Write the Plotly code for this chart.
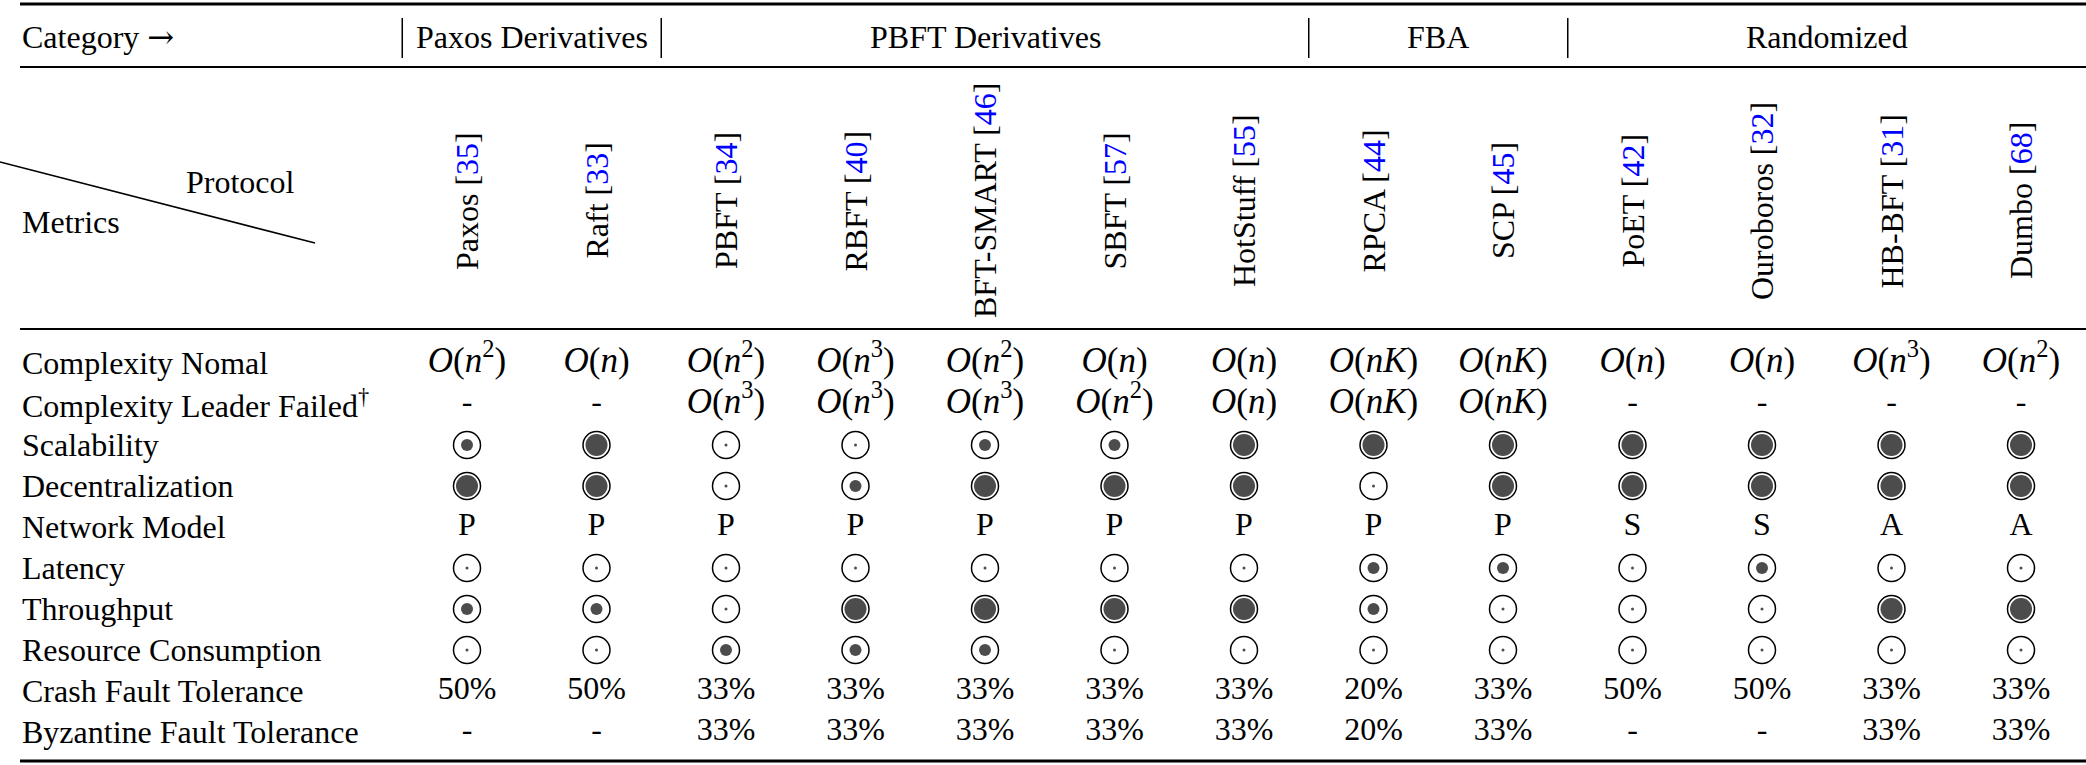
import plotly.graph_objects as go

# %% table content
protocols = ["Paxos", "Raft", "PBFT", "RBFT", "BFT-SMART", "SBFT", "HotStuff",
             "RPCA", "SCP", "PoET", "Ouroboros", "HB-BFT", "Dumbo"]
citations = ["35", "33", "34", "40", "46", "57", "55", "44", "45", "42", "32", "31", "68"]

categories = ["Paxos Derivatives", "PBFT Derivatives", "FBA", "Randomized"]
category_spans = [2, 5, 2, 4]

metrics = ["Complexity Nomal", "Complexity Leader Failed<sup>†</sup>", "Scalability",
           "Decentralization", "Network Model", "Latency", "Throughput",
           "Resource Consumption", "Crash Fault Tolerance", "Byzantine Fault Tolerance"]

complexity_normal = ["n^2", "n", "n^2", "n^3", "n^2", "n", "n", "nK", "nK", "n", "n", "n^3", "n^2"]
complexity_leader_failed = ["-", "-", "n^3", "n^3", "n^3", "n^2", "n", "nK", "nK", "-", "-", "-", "-"]

# 0 = low, 1 = medium, 2 = high
scalability = [1, 2, 0, 0, 1, 1, 2, 2, 2, 2, 2, 2, 2]
decentralization = [2, 2, 0, 1, 2, 2, 2, 0, 2, 2, 2, 2, 2]
network_model = ["P", "P", "P", "P", "P", "P", "P", "P", "P", "S", "S", "A", "A"]
latency = [0, 0, 0, 0, 0, 0, 0, 1, 1, 0, 1, 0, 0]
throughput = [1, 1, 0, 2, 2, 2, 2, 1, 0, 0, 0, 2, 2]
resource_consumption = [0, 0, 1, 1, 1, 0, 0, 0, 0, 0, 0, 0, 0]
crash_ft = ["50%", "50%", "33%", "33%", "33%", "33%", "33%", "20%", "33%", "50%", "50%", "33%", "33%"]
byzantine_ft = ["-", "-", "33%", "33%", "33%", "33%", "33%", "20%", "33%", "-", "-", "33%", "33%"]

rows = [complexity_normal, complexity_leader_failed, scalability, decentralization,
        network_model, latency, throughput, resource_consumption, crash_ft, byzantine_ft]

# %% layout
W, H = 2086, 765
LEFT = 20
COL0, COL_W = 467, 129.5
ROW0, ROW_H = 363, 41
HEAD_Y = 37
LABEL_Y = 201
FONT = "Liberation Serif, Times New Roman, serif"
FS = 32
FS_MATH = 35
DOT_SIZE = {0: 3, 1: 12, 2: 22}


def big_o(v):
    if v == "-":
        return v
    if "^" in v:
        base, p = v.split("^")
        return f"<i>O</i>(<i>{base}</i><sup>{p}</sup>)"
    return f"<i>O</i>(<i>{v}</i>)"


def col_x(i):
    return COL0 + COL_W * i


def row_y(j):
    return ROW0 + ROW_H * j


cells = {"math": ([], [], []), "plain": ([], [], [])}
sym_x, sym_y, sym_size = [], [], []
for j, vals in enumerate(rows):
    for i, v in enumerate(vals):
        if isinstance(v, int):
            sym_x.append(col_x(i))
            sym_y.append(row_y(j))
            sym_size.append(DOT_SIZE[v])
        else:
            kind = "math" if (j < 2 and v != "-") else "plain"
            cells[kind][0].append(col_x(i))
            cells[kind][1].append(row_y(j))
            cells[kind][2].append(big_o(v) if kind == "math" else v)

fig = go.Figure()

for kind, size in [("math", FS_MATH), ("plain", FS)]:
    xs, ys, ts = cells[kind]
    fig.add_trace(go.Scatter(
        x=xs, y=ys, text=ts, mode="text",
        textposition="middle center",
        textfont=dict(family=FONT, size=size, color="black"),
        hoverinfo="skip", showlegend=False,
    ))

fig.add_trace(go.Scatter(
    x=sym_x, y=sym_y, mode="markers",
    marker=dict(symbol="circle-open", size=27, color="black", line_width=1.5),
    hoverinfo="skip", showlegend=False,
))
fig.add_trace(go.Scatter(
    x=sym_x, y=sym_y, mode="markers",
    marker=dict(symbol="circle", size=sym_size, color="black", line_width=0),
    hoverinfo="skip", showlegend=False,
))

ann = []
# metric names
for j, m in enumerate(metrics):
    ann.append(dict(x=LEFT, y=row_y(j), text=m, xanchor="left", yanchor="middle"))

# header row
ann.append(dict(x=LEFT, y=HEAD_Y,
                text='Category <span style="font-family:DejaVu Serif">→</span>',
                xanchor="left", yanchor="middle"))
edges = [col_x(0) - COL_W / 2]
for s in category_spans:
    edges.append(edges[-1] + COL_W * s)
for k, c in enumerate(categories):
    ann.append(dict(x=(edges[k] + edges[k + 1]) / 2, y=HEAD_Y, text=c,
                    xanchor="center", yanchor="middle"))

# rotated protocol names
for i, (p, c) in enumerate(zip(protocols, citations)):
    ann.append(dict(x=col_x(i), y=LABEL_Y, textangle=-90,
                    text=f'{p} [<span style="color:#0000ff">{c}</span>]',
                    xanchor="center", yanchor="middle"))

ann.append(dict(x=240, y=182, text="Protocol", xanchor="center", yanchor="middle"))
ann.append(dict(x=LEFT, y=222, text="Metrics", xanchor="left", yanchor="middle"))

for a in ann:
    a.update(xref="x", yref="y", showarrow=False,
             font=dict(family=FONT, size=FS, color="black"))

shapes = []
for y, w in [(4, 3), (67, 2), (329, 2), (761, 3)]:
    shapes.append(dict(type="line", x0=LEFT, x1=W, y0=y, y1=y,
                       line=dict(color="black", width=w)))
for e in edges[:-1]:
    shapes.append(dict(type="line", x0=e, x1=e, y0=18, y1=58,
                       line=dict(color="black", width=1.5)))
shapes.append(dict(type="line", x0=0, y0=162, x1=315, y1=243,
                   line=dict(color="black", width=1.6)))
for s in shapes:
    s.update(xref="x", yref="y")

fig.update_layout(
    width=W, height=H,
    margin=dict(l=0, r=0, t=0, b=0),
    paper_bgcolor="white", plot_bgcolor="white",
    xaxis=dict(range=[0, W], visible=False, fixedrange=True),
    yaxis=dict(range=[H, 0], visible=False, fixedrange=True),
    annotations=ann, shapes=shapes,
)

# page body has a default 8px margin; drop it so the figure sits at (0, 0)
fig.write_html("out.html", config={"displayModeBar": False},
               post_script="document.body.style.margin='0';")
